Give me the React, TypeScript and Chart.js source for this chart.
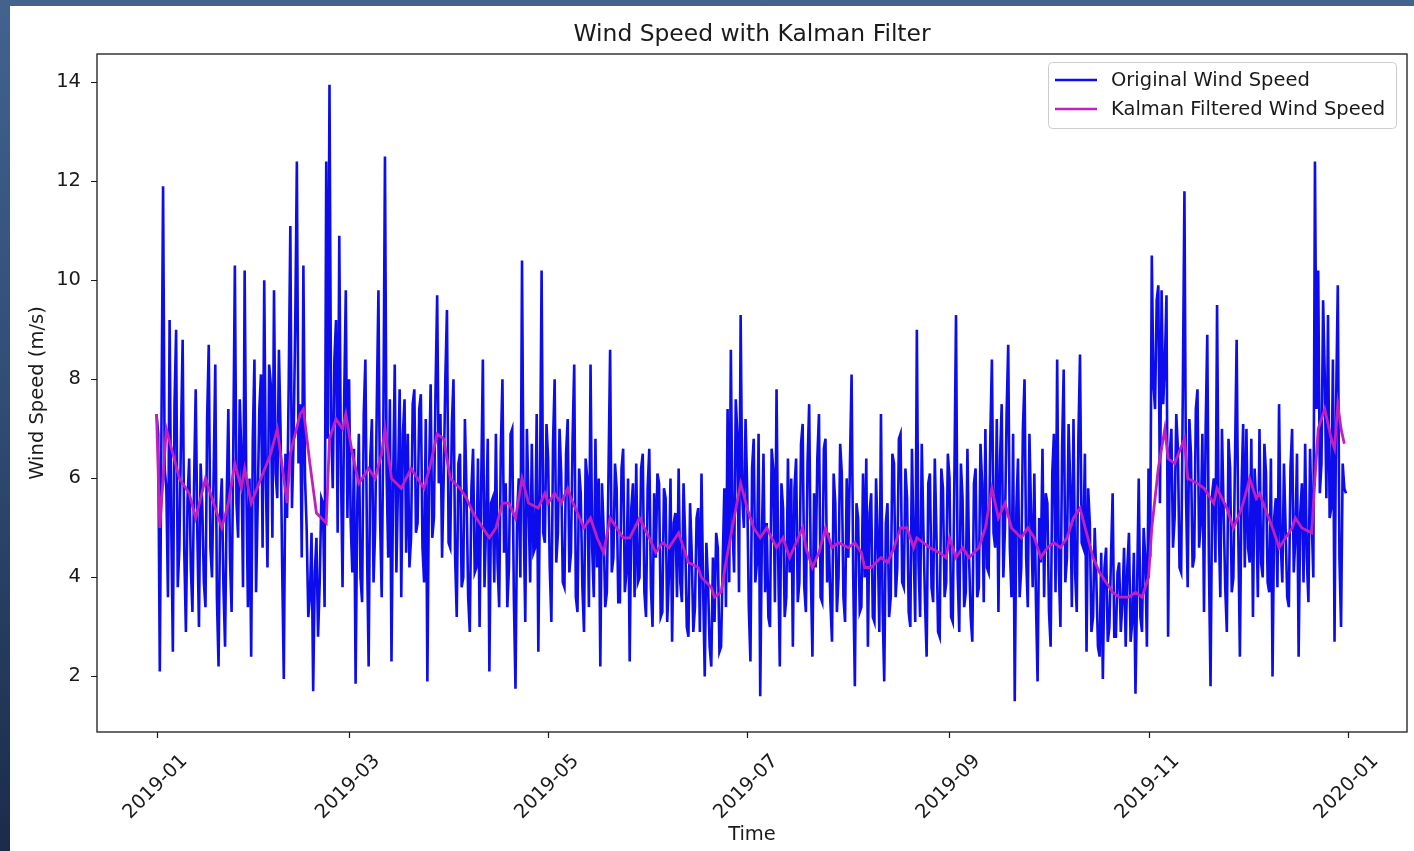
import React, { useEffect, useRef } from "react";
import { Chart, registerables } from "chart.js";

Chart.register(...registerables);

// ---- Data: wind speed 2019-01-01 .. 2019-12-31, two readings per day (first half / second half) ----
const janA = [7.3, 2.1, 11.9, 5.8, 9.2, 2.5, 9.0, 4.6, 8.8, 2.9, 6.4, 3.3, 7.8, 3.0, 5.5, 3.4, 8.7, 4.0, 8.3, 2.2, 6.0, 2.6, 7.4, 3.3, 10.3, 4.8, 6.5, 10.2, 3.4, 2.4, 8.4];
const janB = [6.9, 7.0, 6.2, 3.6, 5.1, 7.5, 3.8, 6.9, 4.5, 5.6, 4.2, 5.9, 4.9, 6.3, 3.9, 7.2, 4.6, 6.1, 3.6, 5.3, 3.8, 5.6, 4.4, 6.5, 5.5, 7.6, 3.8, 5.9, 6.0, 6.8, 3.7];
const febA = [5.5, 8.1, 10.0, 4.2, 7.9, 9.8, 5.6, 7.0, 1.95, 5.2, 11.1, 6.8, 12.4, 7.5, 10.3, 5.0, 3.6, 1.7, 4.8, 3.9, 5.5, 12.4, 13.95, 5.8, 9.2, 10.9, 3.8, 9.8];
const febB = [7.4, 4.6, 5.9, 8.3, 4.8, 6.1, 8.6, 4.2, 6.5, 7.9, 5.4, 9.1, 6.3, 4.4, 6.0, 3.2, 4.9, 4.1, 2.8, 5.6, 3.4, 6.8, 7.1, 8.4, 4.9, 6.3, 7.6, 5.2];
const marA = [8.0, 4.1, 1.85, 6.9, 3.5, 8.4, 2.2, 7.2, 5.0, 9.8, 3.6, 12.5, 4.4, 2.3, 8.3, 5.9, 3.6, 7.6, 6.9, 4.8, 7.8, 5.1, 7.7, 3.9, 1.9, 7.9, 5.2, 9.7, 7.3, 6.0, 9.4];
const marB = [5.1, 6.6, 5.4, 4.0, 7.3, 4.6, 6.4, 3.9, 7.5, 5.2, 7.0, 6.1, 7.6, 5.9, 4.1, 7.8, 6.9, 4.5, 4.2, 7.5, 4.9, 7.4, 4.6, 7.2, 6.0, 4.8, 7.8, 5.9, 4.4, 8.0, 4.7];
const aprA = [4.6, 8.0, 3.2, 6.5, 4.0, 5.7, 2.9, 6.6, 4.2, 3.0, 8.4, 5.1, 2.1, 5.6, 6.9, 3.4, 8.0, 5.9, 4.2, 7.0, 1.75, 6.0, 10.4, 3.1, 5.5, 6.7, 4.6, 2.5, 10.2, 4.7];
const aprB = [7.1, 4.4, 6.3, 3.8, 7.2, 3.6, 5.8, 4.1, 6.4, 5.9, 3.8, 6.8, 5.5, 3.9, 4.3, 6.6, 4.5, 3.4, 6.9, 3.6, 5.3, 4.0, 5.2, 7.0, 3.9, 4.5, 7.3, 5.8, 4.9, 7.1];
const mayA = [6.4, 3.1, 8.0, 4.9, 6.1, 3.8, 7.2, 4.5, 8.3, 3.3, 5.7, 2.9, 6.0, 8.3, 3.6, 4.2, 2.2, 5.0, 3.7, 8.6, 4.4, 5.8, 3.5, 6.6, 4.1, 2.3, 5.9, 6.3, 4.0, 6.5, 3.2];
const mayB = [4.2, 6.7, 4.3, 7.0, 3.9, 6.5, 4.1, 6.8, 3.6, 6.2, 3.8, 6.4, 3.4, 4.6, 6.8, 6.0, 5.9, 3.4, 6.1, 4.1, 6.3, 3.5, 6.2, 3.7, 6.0, 5.4, 3.6, 3.9, 6.2, 3.7, 5.8];
const junA = [6.6, 3.0, 4.4, 5.9, 3.3, 5.6, 4.0, 2.7, 5.3, 6.2, 3.5, 4.8, 2.8, 4.5, 3.4, 5.4, 6.1, 2.0, 3.9, 2.2, 3.1, 4.6, 2.6, 5.8, 7.4, 8.6, 4.1, 6.9, 9.3, 5.0];
const junB = [3.8, 5.7, 6.1, 3.2, 5.8, 3.1, 6.0, 5.1, 3.6, 3.9, 5.9, 3.0, 5.5, 2.9, 5.2, 2.9, 3.8, 4.7, 2.6, 4.4, 4.9, 2.5, 4.3, 3.4, 3.9, 5.0, 7.6, 3.7, 5.6, 7.2];
const julA = [5.8, 2.3, 6.8, 4.3, 1.6, 6.5, 5.1, 3.0, 6.2, 7.8, 2.2, 5.4, 3.6, 4.1, 2.6, 6.4, 3.9, 7.1, 3.3, 7.5, 2.4, 4.2, 7.3, 3.5, 6.8, 4.9, 2.7, 5.5, 4.0, 6.1, 3.1];
const julB = [3.4, 6.2, 3.9, 6.9, 4.8, 3.7, 3.2, 6.6, 3.5, 4.4, 5.9, 3.2, 6.4, 6.0, 5.8, 3.5, 6.7, 3.8, 6.3, 4.1, 5.7, 6.4, 3.6, 6.6, 3.9, 3.5, 6.1, 3.3, 6.7, 3.6, 6.0];
const augA = [4.4, 8.1, 1.8, 5.2, 3.4, 4.0, 2.6, 5.7, 3.1, 4.8, 7.3, 1.9, 5.5, 3.6, 6.3, 4.2, 6.9, 3.8, 5.6, 3.0, 4.7, 9.0, 3.2, 5.0, 2.4, 6.1, 3.5, 4.9, 2.8, 5.8, 3.9];
const augB = [6.3, 4.0, 5.5, 3.3, 6.1, 6.4, 5.3, 3.2, 6.0, 2.9, 3.4, 5.1, 3.2, 6.5, 3.6, 6.8, 3.9, 6.2, 3.3, 6.6, 3.1, 4.3, 6.7, 3.5, 5.9, 3.8, 6.4, 2.9, 6.2, 3.6, 6.5];
const sepA = [6.0, 3.1, 9.3, 2.9, 5.6, 3.7, 4.4, 2.7, 6.2, 3.8, 5.9, 7.0, 4.1, 8.4, 4.6, 3.3, 7.5, 5.0, 8.7, 3.6, 1.5, 6.4, 4.2, 8.0, 3.4, 5.3, 6.1, 1.9, 4.3, 3.6];
const sepB = [3.2, 6.0, 4.1, 6.3, 3.4, 6.6, 3.2, 5.9, 3.6, 6.7, 3.5, 4.2, 6.8, 4.9, 7.2, 6.4, 4.0, 7.3, 4.6, 6.9, 5.4, 3.6, 7.0, 4.4, 6.9, 3.8, 3.5, 5.2, 6.6, 5.7];
const octA = [5.5, 2.6, 6.9, 8.4, 3.0, 8.2, 4.4, 5.9, 7.2, 3.3, 8.5, 4.6, 2.5, 5.1, 3.2, 4.0, 2.4, 1.95, 4.6, 3.0, 5.7, 2.8, 4.3, 3.5, 2.6, 4.9, 3.1, 1.65, 6.0, 2.9, 4.4];
const octB = [3.3, 6.1, 3.7, 4.2, 6.6, 3.9, 7.1, 3.4, 4.1, 6.8, 4.7, 6.5, 5.8, 2.9, 5.0, 2.6, 4.5, 4.2, 2.7, 4.4, 2.8, 4.1, 2.9, 4.6, 4.2, 2.7, 4.5, 3.8, 3.2, 5.0, 2.6];
const novA = [6.2, 10.5, 7.4, 9.9, 9.8, 8.3, 2.8, 7.0, 5.2, 6.6, 4.1, 11.8, 3.8, 6.5, 4.4, 7.8, 5.1, 3.3, 8.9, 1.8, 6.0, 9.5, 3.6, 5.4, 2.9, 6.2, 4.0, 8.8, 2.4, 7.1];
const novB = [4.4, 7.9, 9.6, 5.5, 7.5, 9.7, 6.5, 4.6, 7.3, 4.2, 7.7, 5.6, 7.2, 4.2, 7.4, 4.6, 6.9, 7.0, 4.3, 5.7, 4.3, 5.1, 7.0, 3.8, 6.8, 3.7, 6.4, 4.9, 5.8, 4.2];
const decA = [7.0, 4.3, 3.2, 5.5, 7.0, 4.0, 6.1, 3.7, 2.0, 5.6, 7.5, 3.9, 5.0, 3.4, 7.0, 4.8, 2.4, 5.9, 6.7, 3.5, 5.2, 12.4, 10.2, 6.3, 8.1, 9.3, 5.4, 2.7, 9.9, 3.0, 5.8];
const decB = [4.6, 6.8, 6.2, 3.6, 4.3, 6.7, 3.9, 6.4, 5.2, 3.8, 4.7, 6.3, 3.6, 6.2, 4.1, 6.5, 5.3, 3.9, 4.4, 6.6, 4.0, 7.4, 5.7, 9.6, 5.6, 5.2, 8.4, 7.6, 4.4, 6.3, 5.7];

const firstHalf = [...janA, ...febA, ...marA, ...aprA, ...mayA, ...junA, ...julA, ...augA, ...sepA, ...octA, ...novA, ...decA];
const secondHalf = [...janB, ...febB, ...marB, ...aprB, ...mayB, ...junB, ...julB, ...augB, ...sepB, ...octB, ...novB, ...decB];

// Kalman filtered series: day index (from 2019-01-01) and value
const kalmanDays = [
  0, 1, 3, 5, 7, 10, 12, 15, 17, 20, 22, 24, 26, 27, 29, 32, 35, 37, 40, 41, 44, 45, 47, 49, 52, 53, 55, 57, 58,
  60, 62, 65, 67, 69, 70, 72, 75, 78, 80, 82, 84, 86, 88, 90, 93, 95, 97, 100, 102, 104, 106, 108, 110, 112, 114, 117, 119,
  120, 122, 124, 126, 127, 129, 131, 133, 135, 137, 139, 141, 143, 145, 148, 151, 153, 155, 157, 160, 162, 163, 166, 167,
  170, 171, 173, 175, 177, 179, 181, 183, 185, 187, 190, 192, 194, 196, 198, 199, 201, 203, 205, 207, 209, 212, 214, 216,
  217, 219, 222, 224, 226, 228, 230, 232, 233, 235, 237, 240, 242, 243, 245, 247, 249, 252, 254, 256, 258, 260, 262, 265,
  267, 269, 271, 273, 275, 277, 279, 281, 283, 285, 287, 289, 292, 293, 295, 298, 300, 302, 304, 305, 307, 309, 310, 312,
  315, 316, 319, 321, 324, 325, 328, 330, 332, 333, 335, 337, 338, 342, 344, 348, 349, 351, 354, 355, 356, 358, 360, 361,
  362, 363, 364,
];
const kalmanValues = [
  7.3, 5.0, 7.0, 6.5, 6.0, 5.7, 5.2, 6.0, 5.6, 5.0, 5.5, 6.3, 5.8, 6.2, 5.5, 6.0, 6.5, 7.0, 5.5, 6.5, 7.3, 7.4, 6.3, 5.3, 5.1, 6.8, 7.2, 7.0, 7.3,
  6.5, 5.9, 6.2, 6.0, 6.5, 7.0, 6.0, 5.8, 6.2, 6.0, 5.8, 6.3, 6.9, 6.8, 6.0, 5.8, 5.6, 5.3, 5.0, 4.8, 5.0, 5.5, 5.5, 5.2, 6.0, 5.5, 5.4, 5.7,
  5.5, 5.7, 5.5, 5.8, 5.6, 5.3, 5.0, 5.2, 4.8, 4.5, 5.2, 5.0, 4.8, 4.8, 5.2, 4.8, 4.5, 4.7, 4.6, 4.9, 4.5, 4.3, 4.2, 4.0,
  3.8, 3.6, 3.7, 4.5, 5.2, 5.9, 5.4, 5.0, 4.8, 5.0, 4.6, 4.8, 4.4, 4.7, 5.0, 4.6, 4.2, 4.5, 5.0, 4.6, 4.7, 4.6, 4.7, 4.5,
  4.2, 4.2, 4.4, 4.3, 4.6, 5.0, 5.0, 4.6, 4.8, 4.7, 4.6, 4.5, 4.4, 4.8, 4.4, 4.6, 4.4, 4.6, 5.0, 5.8, 5.2, 5.5, 5.0, 4.8,
  5.0, 4.8, 4.4, 4.6, 4.7, 4.6, 4.8, 5.2, 5.4, 4.9, 4.4, 4.1, 3.8, 3.7, 3.6, 3.6, 3.7, 3.6, 4.0, 5.0, 6.2, 7.0, 6.4, 6.3,
  6.8, 6.0, 5.9, 5.8, 5.5, 5.8, 5.4, 5.0, 5.3, 5.5, 6.0, 5.6, 5.7, 5.0, 4.6, 5.0, 5.2, 5.0, 4.9, 6.0, 7.0, 7.4, 6.8, 6.6,
  7.5, 7.0, 6.7,
];

const xTickDays = [0, 59, 120, 181, 243, 304, 365];
const xTickLabels = ["2019-01", "2019-03", "2019-05", "2019-07", "2019-09", "2019-11", "2020-01"];

const TITLE = "Wind Speed with Kalman Filter";
const X_TITLE = "Time";
const Y_TITLE = "Wind Speed (m/s)";
const SERIES_LABELS = ["Original Wind Speed", "Kalman Filtered Wind Speed"];
const SERIES_COLORS = ["#0c0cec", "#c020c0"];

const FONT = '"DejaVu Sans", "Liberation Sans", sans-serif';
const TEXT_COLOR = "#1a1a1a";

const decorPlugin = {
  id: "decor",
  afterDraw(chart: any) {
    const { ctx, chartArea: a, scales } = chart;
    const xs = scales.x;
    const ys = scales.y;
    ctx.save();

    // frame (spines)
    ctx.strokeStyle = TEXT_COLOR;
    ctx.lineWidth = 1.3;
    ctx.strokeRect(a.left, a.top, a.right - a.left, a.bottom - a.top);

    // tick marks
    ctx.beginPath();
    ys.ticks.forEach((t: any) => {
      const y = Math.round(ys.getPixelForValue(t.value)) + 0.5;
      ctx.moveTo(a.left - 6, y);
      ctx.lineTo(a.left, y);
    });
    xTickDays.forEach((d) => {
      const x = Math.round(xs.getPixelForValue(d)) + 0.5;
      ctx.moveTo(x, a.bottom);
      ctx.lineTo(x, a.bottom + 6);
    });
    ctx.lineWidth = 1.2;
    ctx.stroke();

    // x tick labels, rotated 45deg, centred under the tick
    ctx.fillStyle = TEXT_COLOR;
    ctx.font = `19.5px ${FONT}`;
    ctx.textAlign = "center";
    ctx.textBaseline = "middle";
    xTickDays.forEach((d, i) => {
      const x = xs.getPixelForValue(d);
      ctx.save();
      ctx.translate(x - 1, a.bottom + 55);
      ctx.rotate(-Math.PI / 4);
      ctx.fillText(xTickLabels[i], 0, 0);
      ctx.restore();
    });

    // title
    ctx.font = `23.4px ${FONT}`;
    ctx.textBaseline = "alphabetic";
    ctx.textAlign = "center";
    ctx.fillText(TITLE, (a.left + a.right) / 2, a.top - 13);

    // legend
    const lx = a.right - 359;
    const ly = a.top + 8;
    const lw = 348;
    const lh = 66;
    ctx.beginPath();
    (ctx as any).roundRect(lx + 0.5, ly + 0.5, lw, lh, 4);
    ctx.fillStyle = "rgba(255,255,255,0.8)";
    ctx.fill();
    ctx.strokeStyle = "#cccccc";
    ctx.lineWidth = 1;
    ctx.stroke();
    ctx.font = `19.5px ${FONT}`;
    ctx.textAlign = "left";
    ctx.textBaseline = "middle";
    SERIES_LABELS.forEach((lab, i) => {
      const y = ly + 18 + i * 29;
      ctx.beginPath();
      ctx.moveTo(lx + 7, y);
      ctx.lineTo(lx + 49, y);
      ctx.strokeStyle = SERIES_COLORS[i];
      ctx.lineWidth = 2.6;
      ctx.stroke();
      ctx.fillStyle = TEXT_COLOR;
      ctx.fillText(lab, lx + 63, y + 1);
    });

    ctx.restore();
  },
};

export default function App() {
  const canvasRef = useRef<HTMLCanvasElement | null>(null);

  useEffect(() => {
    const canvas = canvasRef.current;
    if (!canvas) return;
    const original: { x: number; y: number }[] = [];
    firstHalf.forEach((v, d) => {
      original.push({ x: d, y: v });
      original.push({ x: d + 0.5, y: secondHalf[d] });
    });
    const kalman = kalmanDays.map((d, i) => ({ x: d, y: kalmanValues[i] }));
    const span = firstHalf.length - 1 + 0.96;
    const margin = span * 0.05;
    const all = [...firstHalf, ...secondHalf];
    const minV = Math.min(...all);
    const maxV = Math.max(...all);
    const yPad = (maxV - minV) * 0.05;

    const chart = new Chart(canvas, {
      type: "line",
      data: {
        datasets: [
          {
            label: SERIES_LABELS[0],
            data: original,
            borderColor: SERIES_COLORS[0],
            backgroundColor: SERIES_COLORS[0],
            borderWidth: 2.6,
            pointRadius: 0,
            tension: 0,
            order: 2,
          },
          {
            label: SERIES_LABELS[1],
            data: kalman,
            borderColor: SERIES_COLORS[1],
            backgroundColor: SERIES_COLORS[1],
            borderWidth: 2.8,
            pointRadius: 0,
            tension: 0,
            order: 1,
          },
        ],
      },
      options: {
        responsive: false,
        animation: false,
        devicePixelRatio: 1,
        events: [],
        layout: { padding: { top: 54, right: 7, bottom: 0, left: 0 } },
        plugins: { legend: { display: false }, title: { display: false }, tooltip: { enabled: false } },
        scales: {
          x: {
            type: "linear",
            min: -margin,
            max: span + margin,
            afterBuildTicks: (s: any) => {
              s.ticks = xTickDays.map((v) => ({ value: v }));
            },
            afterFit: (s: any) => {
              s.height = 119;
            },
            ticks: { display: false },
            grid: { display: false, drawTicks: false },
            border: { display: false },
            title: {
              display: true,
              text: X_TITLE,
              color: TEXT_COLOR,
              font: { family: FONT, size: 19.5 },
              padding: { top: 0, bottom: 4 },
            },
          },
          y: {
            type: "linear",
            min: minV - yPad,
            max: maxV + yPad,
            afterFit: (s: any) => {
              s.width = 97;
            },
            ticks: {
              stepSize: 2,
              includeBounds: false,
              color: TEXT_COLOR,
              font: { family: FONT, size: 19.5 },
              padding: 16,
            },
            grid: { display: false, drawTicks: false },
            border: { display: false },
            title: {
              display: true,
              text: Y_TITLE,
              color: TEXT_COLOR,
              font: { family: FONT, size: 19.5 },
              padding: { top: 26, bottom: 0 },
            },
          },
        },
      },
      plugins: [decorPlugin],
    } as any);

    return () => chart.destroy();
  }, []);

  return (
    <div
      style={{
        position: "fixed",
        left: 0,
        top: 0,
        width: 1414,
        height: 851,
        background: "linear-gradient(to bottom, #42638d 0%, #2f4b72 50%, #1b2b4a 100%)",
        overflow: "hidden",
      }}
    >
      <div style={{ position: "absolute", left: 10, top: 6, right: 0, bottom: 0, background: "#ffffff" }} />
      <canvas
        ref={canvasRef}
        width={1414}
        height={851}
        style={{ position: "absolute", left: 0, top: 0, width: 1414, height: 851, display: "block" }}
      />
    </div>
  );
}
